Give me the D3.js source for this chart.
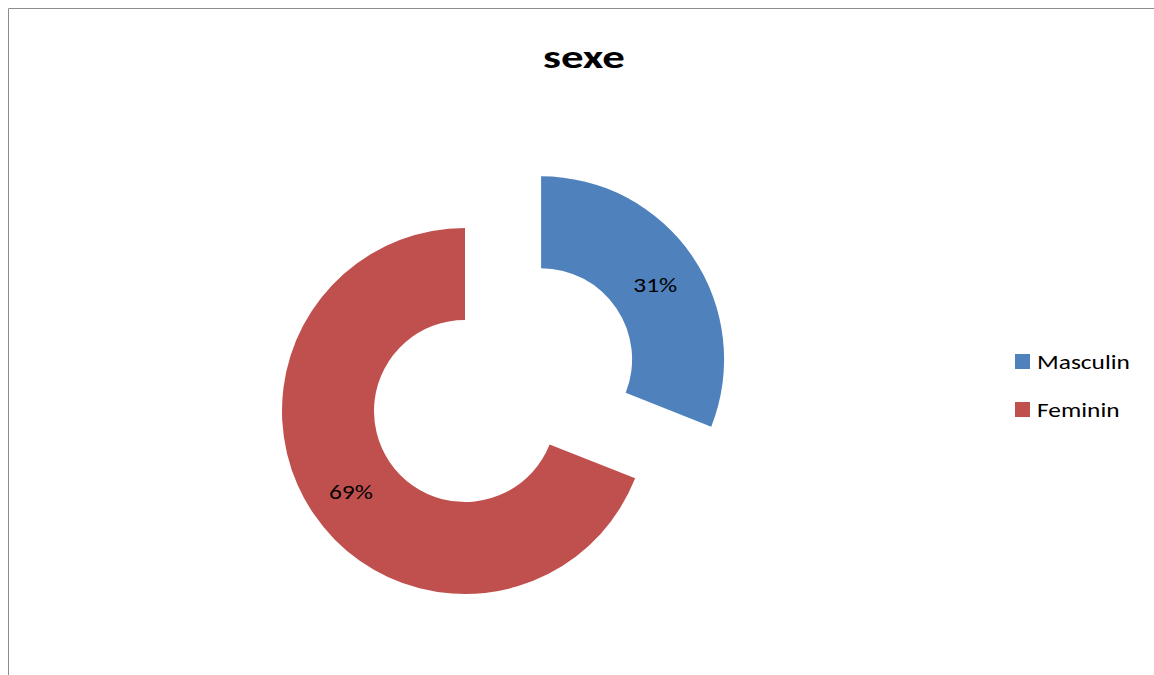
<!DOCTYPE html>
<html>
<head>
<meta charset="utf-8">
<script src="https://cdn.jsdelivr.net/npm/d3@7"></script>
<style>
  html, body { margin: 0; padding: 0; background: #fff; }
  svg { display: block; font-family: Carlito, Calibri, Lato, sans-serif; }
</style>
</head>
<body>
<div id="chart"></div>
<script>
const title = "sexe";
const categories = ["Masculin", "Feminin"];
const values = [31, 69];
const colors = ["#4F81BD", "#C0504D"];
const exploded = [true, false];

const width = 1154, height = 675;
const center = [465, 411];
const outerR = 183, innerR = 91;
const explodeDist = 92;
// the original picture is stretched sideways, text included
const stretch = 1.27;

const svg = d3.select("#chart").append("svg")
    .attr("width", width)
    .attr("height", height);

// chart frame
svg.append("path")
    .attr("d", `M8.5,${height} V8.5 H${width}`)
    .attr("fill", "none")
    .attr("stroke", "#8c8c8c")
    .attr("stroke-width", 1);

svg.append("text")
    .attr("class", "wide")
    .attr("x", 584)
    .attr("y", 68)
    .attr("text-anchor", "middle")
    .attr("font-size", 33)
    .attr("font-weight", "bold")
    .attr("data-stretch", 1.36)
    .text(title);

const pie = d3.pie().sort(null).value(d => d)
const arcs = pie(values)
const arc = d3.arc().innerRadius(innerR).outerRadius(outerR)
const total = d3.sum(values)

const g = svg.append("g")
    .attr("transform", `translate(${center[0]},${center[1]})`)

const slice = g.selectAll("g.slice")
    .data(arcs)
    .enter()
    .append("g")
    .attr("class", "slice")
    .attr("transform", (d, i) => {
        if (!exploded[i]) return null
        const mid = (d.startAngle + d.endAngle) / 2
        return `translate(${Math.sin(mid) * explodeDist},${-Math.cos(mid) * explodeDist})`
    })

slice.append("path")
    .attr("d", arc)
    .attr("fill", (d, i) => colors[i])

// labels sit a bit outside the ring middle, like excel does
const labelArc = d3.arc().innerRadius(138).outerRadius(138)
slice.append("text")
    .attr("class", "wide")
    .attr("transform", d => `translate(${labelArc.centroid(d)})`)
    .attr("text-anchor", "middle")
    .attr("dy", "0.5em")
    .attr("font-size", 20)
    .attr("fill", "#000")
    .text(d => Math.round(d.value / total * 100) + "%")

const legend = svg.append("g")
    .selectAll("g")
    .data(categories)
    .enter()
    .append("g")
    .attr("transform", (d, i) => `translate(1015,${354 + i * 48})`)

legend.append("rect")
    .attr("width", 15)
    .attr("height", 15)
    .attr("fill", (d, i) => colors[i])

legend.append("text")
    .attr("class", "wide")
    .attr("x", 22)
    .attr("y", 15)
    .attr("font-size", 20)
    .text(d => d)

svg.selectAll("text.wide").each(function() {
    const s = +this.getAttribute("data-stretch") || stretch
    const w = this.getComputedTextLength()
    d3.select(this)
        .attr("textLength", w * s)
        .attr("lengthAdjust", "spacingAndGlyphs")
})
</script>
</body>
</html>
